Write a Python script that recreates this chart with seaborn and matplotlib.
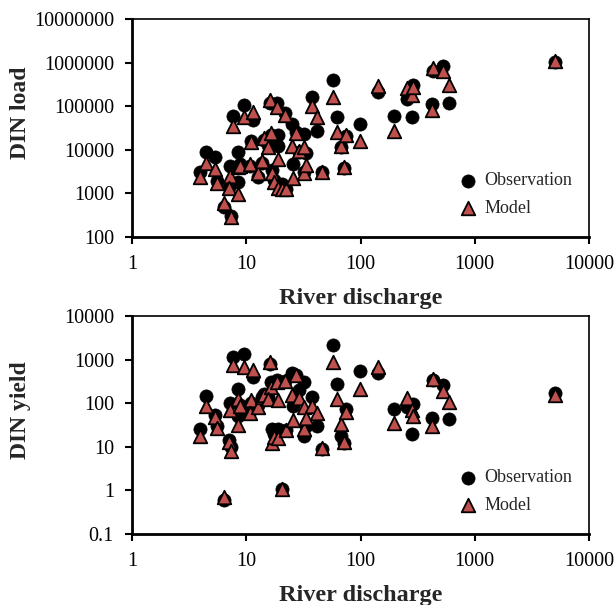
import numpy as np
import pandas as pd
import matplotlib.pyplot as plt
import seaborn as sns
from matplotlib.ticker import FixedLocator, FuncFormatter, NullLocator

# values (one entry per river)
discharge = [3.9, 4.4, 5.3, 5.6, 6.4, 7.2, 7.1, 7.4, 7.65, 8.4,
             8.5, 8.9, 9.5, 11.4, 11.1, 10.8, 12.6, 13.8, 14.3, 16.2,
             16.3, 15.5, 16.8, 17.4, 18.6, 19.0, 18.8, 20.4, 22.0, 22.2,
             25.0, 25.7, 27.0, 29.0, 32.0, 32.2, 33.5, 37.5, 42.0, 46.0,
             58.0, 62.0, 68.0, 71.0, 75.0, 99.0, 143.0, 198.0, 255.0, 280.0,
             290.0, 420.0, 435.0, 530.0, 590.0, 5000.0]
load_obs = [3050, 9000, 6900, 1900, 480, 4300, 1400, 300, 59600, 1800,
            9100, 4600, 107000, 48000, 16300, 4200, 2400, 5100, 17000, 120000,
            22000, 13000, 3500, 2000, 117000, 22000, 12000, 1600, 69000, 1250,
            39000, 4600, 26000, 9000, 23000, 3100, 8300, 166000, 27500, 3100,
            400000, 55600, 11800, 3800, 21000, 39000, 215000, 59600, 145000, 55600,
            310000, 112000, 650000, 850000, 120000, 1050000]
load_model = [2350, 5100, 3550, 1700, 610, 2500, 1350, 290, 35500, 950,
              4100, 4300, 55600, 74000, 15000, 4700, 3000, 5500, 19000, 138000,
              24000, 11700, 3000, 1850, 98000, 6000, 1300, 1250, 63000, 1240,
              12500, 2300, 24500, 9300, 11700, 2900, 4450, 100000, 58000, 3150,
              166000, 26000, 12000, 4100, 22000, 15600, 290000, 27500, 257000, 182000,
              280000, 81000, 740000, 650000, 310000, 1090000]
yield_obs = [25, 150, 55, 30, 0.59, 100, 14, 10, 1150, 52,
             216, 90, 1310, 390, 100, 65, 90, 140, 160, 800,
             310, 140, 26, 20, 340, 24, 26, 1.1, 330, 24,
             490, 85, 450, 200, 310, 18, 30, 138, 29.5, 9.1,
             2200, 270, 18, 12, 75, 545, 490, 72, 80, 20,
             94, 45, 335, 257, 43, 170]
yield_model = [18, 85, 47, 27.5, 0.7, 69, 13, 8, 740, 31,
               126, 85, 680, 590, 117, 60, 82, 140, 152, 870,
               235, 126, 12.3, 16.8, 300, 120, 16, 1.1, 316, 24,
               152, 42, 436, 135, 80, 25, 45, 85, 58, 9.3,
               890, 123, 33, 13, 63, 210, 680, 35, 135, 71,
               52, 29.5, 367, 190, 107, 158]

sns.set_style("ticks")
plt.rcParams["font.family"] = ["Liberation Serif", "DejaVu Serif"]

df = pd.DataFrame({"discharge": discharge, "load_obs": load_obs, "load_model": load_model,
                   "yield_obs": yield_obs, "yield_model": yield_model})

fig = plt.figure(figsize=(6.16, 6.05), dpi=100)
ax1 = fig.add_axes([0.2143, 0.6083, 0.7419, 0.3603])
ax2 = fig.add_axes([0.2143, 0.1174, 0.7419, 0.3603])


def fmt(v, pos):
    return f"{v:g}" if v < 1 else f"{int(round(v))}"


def panel(ax, obs_col, mod_col, yticks, ylabel):
    sns.scatterplot(data=df, x="discharge", y=obs_col, ax=ax, marker="o", color="black",
                    s=90, edgecolor="black", linewidth=0.5, label="Observation", zorder=3)
    sns.scatterplot(data=df, x="discharge", y=mod_col, ax=ax, marker="^", color="#C0504D",
                    s=95, edgecolor="black", linewidth=1.3, label="Model", zorder=4)
    ax.set_xscale("log")
    ax.set_yscale("log")
    ax.set_xlim(1, 10000)
    ax.set_ylim(yticks[0], yticks[-1])
    ax.xaxis.set_major_locator(FixedLocator([1, 10, 100, 1000, 10000]))
    ax.yaxis.set_major_locator(FixedLocator(yticks))
    ax.xaxis.set_minor_locator(NullLocator())
    ax.yaxis.set_minor_locator(NullLocator())
    ax.xaxis.set_major_formatter(FuncFormatter(fmt))
    ax.yaxis.set_major_formatter(FuncFormatter(fmt))
    ax.tick_params(axis="both", which="major", direction="out", length=5, width=1.5,
                   labelsize=14.5, pad=8, color="black", labelcolor="black")
    for side in ["left", "bottom"]:
        ax.spines[side].set_linewidth(2)
    for side in ["top", "right"]:
        ax.spines[side].set_linewidth(1.2)
    for sp in ax.spines.values():
        sp.set_color("black")
    ax.set_xlabel("River discharge", fontsize=17.5, fontweight="bold", labelpad=10)
    ax.set_ylabel(ylabel, fontsize=17, fontweight="bold")
    ax.yaxis.set_label_coords(-0.22, 0.57)
    ax.legend(loc="upper left", bbox_to_anchor=(0.68, 0.33), frameon=False,
              handletextpad=-0.1, fontsize=13, labelspacing=0.6, borderaxespad=0)


panel(ax1, "load_obs", "load_model", [100, 1000, 10000, 100000, 1000000, 10000000], "DIN load")
panel(ax2, "yield_obs", "yield_model", [0.1, 1, 10, 100, 1000, 10000], "DIN yield")

fig.savefig("out.png", dpi=100)
